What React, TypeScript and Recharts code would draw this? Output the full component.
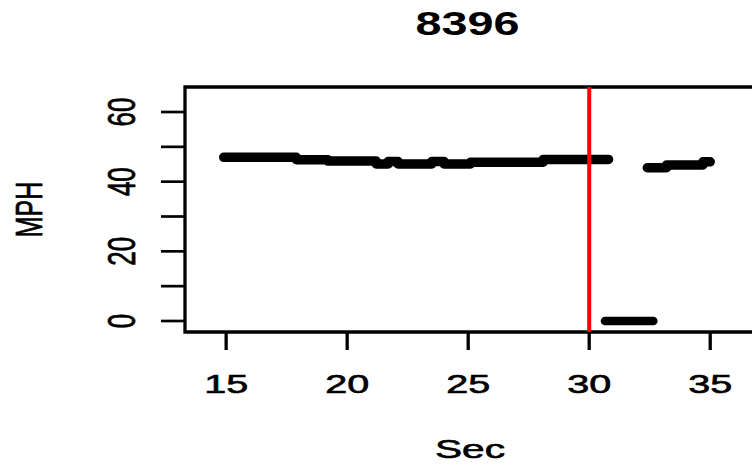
import {
  LineChart,
  Line,
  XAxis,
  YAxis,
  ReferenceLine,
  ReferenceArea,
} from "recharts";

// speed runs (sec, mph)
const runBefore = [
  { sec: 14.9, mph: 47.0 },
  { sec: 17.9, mph: 46.3 },
  { sec: 19.2, mph: 45.9 },
  { sec: 21.2, mph: 45.1 },
  { sec: 21.7, mph: 45.8 },
  { sec: 22.1, mph: 45.1 },
  { sec: 23.5, mph: 45.8 },
  { sec: 24.0, mph: 45.1 },
  { sec: 25.1, mph: 45.6 },
  { sec: 28.1, mph: 46.4 },
  { sec: 30.8, mph: 46.4 },
];

const runStopped = [
  { sec: 30.65, mph: 0 },
  { sec: 32.65, mph: 0 },
];

const runAfter = [
  { sec: 32.4, mph: 44.0 },
  { sec: 33.2, mph: 44.8 },
  { sec: 34.7, mph: 45.7 },
  { sec: 35.0, mph: 45.7 },
];

const xTicks = [15, 20, 25, 30, 35];
const yTicks = [0, 10, 20, 30, 40, 50, 60];
const xDomain: [number, number] = [13.3, 36.85];
const yDomain: [number, number] = [-3.16, 67.18];
const eventSec = 30;
const title = "8396";

const FONT = '"Liberation Sans", Arial, Helvetica, sans-serif';

const XTick = (props: any) => {
  const { x, y, payload } = props;
  return (
    <text
      x={x}
      y={y + 43}
      textAnchor="middle"
      fontFamily={FONT}
      fontSize={25}
      fill="#000"
      stroke="#000"
      strokeWidth={0.6}
      textLength={44}
      lengthAdjust="spacingAndGlyphs"
    >
      {payload.value}
    </text>
  );
};

const YTick = (props: any) => {
  const { x, y, payload } = props;
  if (payload.value % 20 !== 0) return <g />;
  return (
    <text
      transform={`translate(${x - 39.5},${y}) scale(1.5,1) rotate(-90)`}
      y={9.3}
      textAnchor="middle"
      fontFamily={FONT}
      fontSize={26}
      fill="#000"
      stroke="#000"
      strokeWidth={0.5}
    >
      {payload.value}
    </text>
  );
};

const secLabel = (props: any) => {
  const vb = props.viewBox;
  return (
    <text
      x={vb.x + vb.width / 2}
      y={vb.y + 126}
      textAnchor="middle"
      fontFamily={FONT}
      fontSize={25}
      fill="#000"
      stroke="#000"
      strokeWidth={0.6}
      textLength={70}
      lengthAdjust="spacingAndGlyphs"
    >
      Sec
    </text>
  );
};

const mphLabel = (props: any) => {
  const vb = props.viewBox;
  return (
    <text
      transform={`translate(28.5,${vb.y + vb.height / 2}) scale(1.5,1) rotate(-90)`}
      y={9}
      textAnchor="middle"
      fontFamily={FONT}
      fontSize={25}
      fill="#000"
      stroke="#000"
      strokeWidth={0.5}
    >
      MPH
    </text>
  );
};

export default function App() {
  return (
    <div
      style={{
        position: "fixed",
        left: 0,
        top: 0,
        width: 752,
        height: 465,
        overflow: "hidden",
        background: "#fff",
      }}
    >
      <svg
        width={752}
        height={60}
        style={{ position: "absolute", left: 0, top: 0 }}
      >
        <text
          x={467.5}
          y={34.5}
          textAnchor="middle"
          fontFamily={FONT}
          fontWeight="bold"
          fontSize={33}
          fill="#000"
          textLength={104}
          lengthAdjust="spacingAndGlyphs"
        >
          {title}
        </text>
      </svg>
      <div style={{ position: "absolute", left: 0, top: 0 }}>
        <LineChart
          width={760}
          height={465}
          margin={{ top: 87, right: 5, bottom: 0, left: 0 }}
        >
          <XAxis
            dataKey="sec"
            type="number"
            domain={xDomain}
            ticks={xTicks}
            allowDataOverflow
            height={133}
            axisLine={false}
            tickSize={18}
            tickMargin={0}
            tickLine={{ stroke: "#000", strokeWidth: 3.3 }}
            tick={XTick}
            label={secLabel}
          />
          <YAxis
            dataKey="mph"
            type="number"
            domain={yDomain}
            ticks={yTicks}
            allowDataOverflow
            width={185}
            axisLine={false}
            tickSize={24}
            tickMargin={0}
            tickLine={{ stroke: "#000", strokeWidth: 2.7 }}
            tick={YTick}
            label={mphLabel}
          />
          <ReferenceArea
            x1={xDomain[0]}
            x2={xDomain[1]}
            y1={yDomain[0]}
            y2={yDomain[1]}
            fill="none"
            stroke="#000"
            strokeWidth={3.3}
            ifOverflow="visible"
          />
          <Line
            data={runBefore}
            dataKey="mph"
            type="stepAfter"
            stroke="#000"
            strokeWidth={9.5}
            strokeLinecap="round"
            strokeLinejoin="round"
            dot={false}
            isAnimationActive={false}
          />
          <Line
            data={runStopped}
            dataKey="mph"
            type="stepAfter"
            stroke="#000"
            strokeWidth={8.5}
            strokeLinecap="round"
            strokeLinejoin="round"
            dot={false}
            isAnimationActive={false}
          />
          <Line
            data={runAfter}
            dataKey="mph"
            type="stepAfter"
            stroke="#000"
            strokeWidth={9.5}
            strokeLinecap="round"
            strokeLinejoin="round"
            dot={false}
            isAnimationActive={false}
          />
          <ReferenceLine
            x={eventSec}
            stroke="#ff0000"
            strokeWidth={4}
            ifOverflow="visible"
          />
        </LineChart>
      </div>
    </div>
  );
}
